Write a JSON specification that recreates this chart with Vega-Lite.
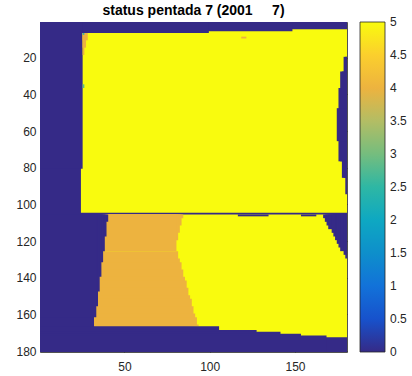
{
  "$schema": "https://vega.github.io/schema/vega-lite/v6.json",
  "width": 307,
  "height": 330,
  "autosize": "none",
  "padding": {"left": 40, "top": 22, "right": 65, "bottom": 24},
  "background": "white",
  "title": {"text": "status pentada 7 (2001\u00a0\u00a0\u00a0\u00a0\u00a07)", "font": "Liberation Sans", "fontSize": 14, "fontWeight": "bold", "color": "#000000", "anchor": "middle", "offset": 1},
  "config": {
    "view": {"stroke": null},
    "axis": {"labelFont": "Liberation Sans", "labelFontSize": 12, "labelColor": "#262626", "tickColor": "#262626", "domainColor": "#262626", "domainWidth": 0.8, "tickWidth": 0.8, "grid": false, "title": null, "zindex": 1, "tickSize": -3, "labelPadding": 8}
  },
  "data": {"values": [
    {"x0": 0.5, "x1": 180.5, "y0": 0.5, "y1": 180.5, "v": 0},
    {"x0": 24.5, "x1": 180.5, "y0": 4.5, "y1": 104.5, "v": 5},
    {"x0": 0.5, "x1": 148.5, "y0": 0.5, "y1": 5.5, "v": 0},
    {"x0": 0.5, "x1": 99.5, "y0": 0.5, "y1": 6.5, "v": 0},
    {"x0": 0.5, "x1": 25.5, "y0": 0.5, "y1": 80.5, "v": 0},
    {"x0": 179.5, "x1": 180.5, "y0": 19.5, "y1": 94.5, "v": 0},
    {"x0": 178.5, "x1": 180.5, "y0": 19.5, "y1": 85.5, "v": 0},
    {"x0": 177.5, "x1": 180.5, "y0": 27.5, "y1": 85.5, "v": 0},
    {"x0": 176.5, "x1": 180.5, "y0": 27.5, "y1": 76.5, "v": 0},
    {"x0": 175.5, "x1": 180.5, "y0": 36.5, "y1": 76.5, "v": 0},
    {"x0": 174.5, "x1": 180.5, "y0": 47.5, "y1": 65.5, "v": 0},
    {"x0": 25.5, "x1": 26.5, "y0": 6.5, "y1": 18.5, "v": 4},
    {"x0": 25.5, "x1": 27.5, "y0": 6.5, "y1": 14.5, "v": 4},
    {"x0": 25.5, "x1": 28.5, "y0": 6.5, "y1": 10.5, "v": 4},
    {"x0": 25.5, "x1": 26.5, "y0": 6.5, "y1": 7.5, "v": 2.5},
    {"x0": 25.5, "x1": 26.5, "y0": 34.5, "y1": 36.5, "v": 2.8},
    {"x0": 118.5, "x1": 121.5, "y0": 8.5, "y1": 9.5, "v": 4},
    {"x0": 32.5, "x1": 180.5, "y0": 105.5, "y1": 172.5, "v": 5},
    {"x0": 32.5, "x1": 84.5, "y0": 105.5, "y1": 107.5, "v": 4},
    {"x0": 32.5, "x1": 83.5, "y0": 105.5, "y1": 111.5, "v": 4},
    {"x0": 32.5, "x1": 82.5, "y0": 105.5, "y1": 115.5, "v": 4},
    {"x0": 32.5, "x1": 81.5, "y0": 105.5, "y1": 119.5, "v": 4},
    {"x0": 32.5, "x1": 80.5, "y0": 105.5, "y1": 125.5, "v": 4},
    {"x0": 32.5, "x1": 81.5, "y0": 125.5, "y1": 166.5, "v": 4},
    {"x0": 32.5, "x1": 82.5, "y0": 129.5, "y1": 166.5, "v": 4},
    {"x0": 32.5, "x1": 83.5, "y0": 131.5, "y1": 166.5, "v": 4},
    {"x0": 32.5, "x1": 84.5, "y0": 135.5, "y1": 166.5, "v": 4},
    {"x0": 32.5, "x1": 85.5, "y0": 139.5, "y1": 166.5, "v": 4},
    {"x0": 32.5, "x1": 86.5, "y0": 141.5, "y1": 166.5, "v": 4},
    {"x0": 32.5, "x1": 87.5, "y0": 145.5, "y1": 166.5, "v": 4},
    {"x0": 32.5, "x1": 88.5, "y0": 149.5, "y1": 166.5, "v": 4},
    {"x0": 32.5, "x1": 89.5, "y0": 151.5, "y1": 166.5, "v": 4},
    {"x0": 32.5, "x1": 90.5, "y0": 155.5, "y1": 166.5, "v": 4},
    {"x0": 32.5, "x1": 91.5, "y0": 159.5, "y1": 166.5, "v": 4},
    {"x0": 32.5, "x1": 92.5, "y0": 161.5, "y1": 166.5, "v": 4},
    {"x0": 32.5, "x1": 93.5, "y0": 165.5, "y1": 166.5, "v": 4},
    {"x0": 0.5, "x1": 40.5, "y0": 105.5, "y1": 109.5, "v": 0},
    {"x0": 0.5, "x1": 39.5, "y0": 105.5, "y1": 117.5, "v": 0},
    {"x0": 0.5, "x1": 38.5, "y0": 105.5, "y1": 125.5, "v": 0},
    {"x0": 0.5, "x1": 37.5, "y0": 105.5, "y1": 131.5, "v": 0},
    {"x0": 0.5, "x1": 36.5, "y0": 105.5, "y1": 139.5, "v": 0},
    {"x0": 0.5, "x1": 35.5, "y0": 105.5, "y1": 147.5, "v": 0},
    {"x0": 0.5, "x1": 34.5, "y0": 105.5, "y1": 155.5, "v": 0},
    {"x0": 0.5, "x1": 33.5, "y0": 105.5, "y1": 161.5, "v": 0},
    {"x0": 166.5, "x1": 180.5, "y0": 105.5, "y1": 107.5, "v": 0},
    {"x0": 167.5, "x1": 180.5, "y0": 105.5, "y1": 109.5, "v": 0},
    {"x0": 168.5, "x1": 180.5, "y0": 105.5, "y1": 111.5, "v": 0},
    {"x0": 169.5, "x1": 180.5, "y0": 105.5, "y1": 113.5, "v": 0},
    {"x0": 171.5, "x1": 180.5, "y0": 105.5, "y1": 115.5, "v": 0},
    {"x0": 172.5, "x1": 180.5, "y0": 105.5, "y1": 117.5, "v": 0},
    {"x0": 173.5, "x1": 180.5, "y0": 105.5, "y1": 119.5, "v": 0},
    {"x0": 174.5, "x1": 180.5, "y0": 105.5, "y1": 121.5, "v": 0},
    {"x0": 175.5, "x1": 180.5, "y0": 105.5, "y1": 123.5, "v": 0},
    {"x0": 176.5, "x1": 180.5, "y0": 105.5, "y1": 125.5, "v": 0},
    {"x0": 178.5, "x1": 180.5, "y0": 105.5, "y1": 127.5, "v": 0},
    {"x0": 179.5, "x1": 180.5, "y0": 105.5, "y1": 129.5, "v": 0},
    {"x0": 116.5, "x1": 134.5, "y0": 105.5, "y1": 106.5, "v": 0},
    {"x0": 153.5, "x1": 162.5, "y0": 105.5, "y1": 106.5, "v": 0},
    {"x0": 0.5, "x1": 105.5, "y0": 166.5, "y1": 180.5, "v": 0},
    {"x0": 0.5, "x1": 127.5, "y0": 168.5, "y1": 180.5, "v": 0},
    {"x0": 0.5, "x1": 141.5, "y0": 169.5, "y1": 180.5, "v": 0},
    {"x0": 0.5, "x1": 153.5, "y0": 170.5, "y1": 180.5, "v": 0},
    {"x0": 0.5, "x1": 168.5, "y0": 171.5, "y1": 180.5, "v": 0}
  ]},
  "layer": [
    {
      "mark": {"type": "rect", "clip": true},
      "encoding": {
        "x": {"field": "x0", "type": "quantitative", "scale": {"domain": [0.5, 180.5], "nice": false, "zero": false}, "axis": {"values": [50, 100, 150], "labelPadding": 12}},
        "x2": {"field": "x1"},
        "y": {"field": "y0", "type": "quantitative", "scale": {"domain": [0.5, 180.5], "nice": false, "zero": false, "reverse": true}, "axis": {"values": [20, 40, 60, 80, 100, 120, 140, 160, 180], "labelPadding": 7}},
        "y2": {"field": "y1"},
        "color": {"field": "v", "type": "quantitative",
          "scale": {"type": "linear", "domain": [0, 0.5, 1, 1.5, 2, 2.5, 3, 3.5, 4, 4.5, 5], "range": ["#352A87", "#1752CC", "#1272D9", "#0E8FCB", "#0EA8C2", "#2EB7A4", "#75BD7E", "#B3BD64", "#EDB33F", "#FBCF2D", "#F9FB0E"], "interpolate": "rgb"},
          "legend": {"orient": "none", "legendX": 320, "legendY": 0, "direction": "vertical", "title": null, "gradientLength": 330, "gradientThickness": 25, "values": [0, 0.5, 1, 1.5, 2, 2.5, 3, 3.5, 4, 4.5, 5], "format": ".1~f", "labelOverlap": false, "labelFontSize": 12, "labelFont": "Liberation Sans", "labelColor": "#262626", "labelOffset": 5, "gradientStrokeColor": "#262626", "gradientStrokeWidth": 0.8, "padding": 0,
            "encode": {"labels": {"update": {"baseline": {"value": "middle"}}}}}}
      }
    },
    {
      "mark": {"type": "point", "opacity": 0},
      "encoding": {
        "x": {"field": "x0", "type": "quantitative", "axis": {"orient": "top", "labels": false, "values": [50, 100, 150]}},
        "y": {"field": "y0", "type": "quantitative", "axis": {"orient": "right", "labels": false, "values": [20, 40, 60, 80, 100, 120, 140, 160, 180]}}
      }
    }
  ],
  "resolve": {"axis": {"x": "independent", "y": "independent"}}
}
